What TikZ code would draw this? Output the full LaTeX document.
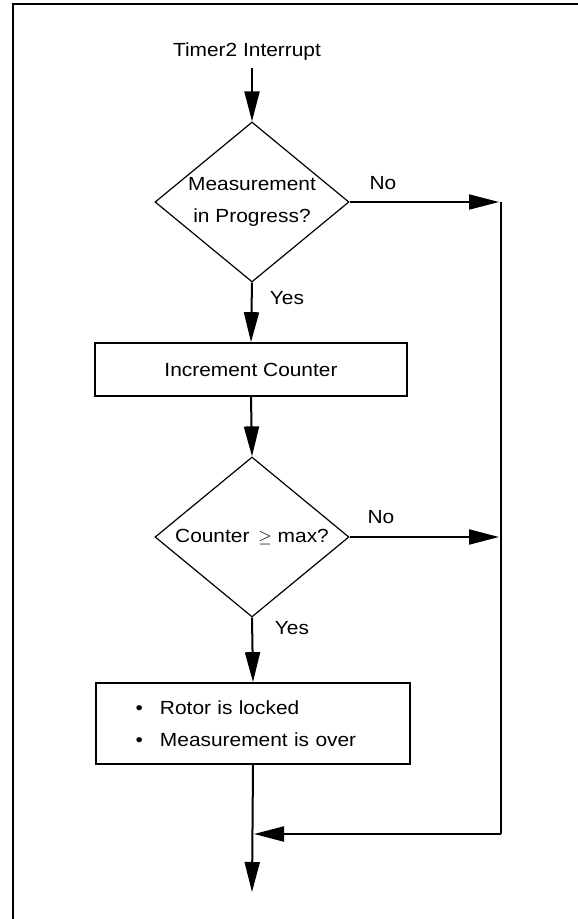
\documentclass[tikz,border=0pt]{standalone}
\usepackage{fontspec}
\setmainfont[FakeStretch=1.1]{Liberation Sans}
\usetikzlibrary{shapes.geometric,arrows.meta}
\tikzset{
  txt/.style={font={\fontsize{19}{32}\selectfont}, inner sep=0pt, align=center},
  decision/.style={diamond, draw, line width=1.2pt, inner sep=0pt, minimum width=194pt, minimum height=160pt, aspect=1.2125, font={\fontsize{19}{32}\selectfont}, align=center},
  process/.style={rectangle, draw, line width=1.7pt, inner sep=0pt, font={\fontsize{19}{32}\selectfont}},
  flow/.style={line width=2pt, -{Triangle[length=30pt,width=15pt]}},
  plain/.style={line width=2pt},
  lbl/.style={font={\fontsize{19}{32}\selectfont}, inner sep=0pt}
}
\begin{document}
\begin{tikzpicture}[x=1pt,y=-1pt]
\useasboundingbox (0,0) rectangle (578,919);
% frame
\draw[line width=2pt] (13,919) -- (13,4) -- (578,4);
% nodes
\node[txt] (start) at (247,52) {Timer2 Interrupt};
\coordinate (s) at (252,68);
\node[decision] (d1) at (252,202) {Measurement\\in Progress?};
\node[process, minimum width=312pt, minimum height=53pt] (b1) at (251,369.5) {Increment Counter};
\node[decision] (d2) at (252,537) {Counter~\,$\geq$ max?};
\node[process, minimum width=314pt, minimum height=81pt, text width=235pt, align=left, inner xsep=39.5pt] (b2) at (253,723.5)
  {\makebox[24.5pt][l]{\textbullet}Rotor is locked\\\makebox[24.5pt][l]{\textbullet}Measurement is over};
\coordinate (r1) at (501,202);
\coordinate (r2) at (501,537);
\coordinate (r3) at (501,834);
\coordinate (m) at (252,834);
\coordinate (e) at (252,892);
% labels
\node[lbl] (no1) at (383,183) {No};
\node[lbl] (yes1) at (287,298) {Yes};
\node[lbl] (no2) at (381,517) {No};
\node[lbl] (yes2) at (292,628) {Yes};
% connectors
\draw[flow] (s) -- (d1.north);
\draw[flow] (d1.south) -- (b1.north);
\draw[flow] (b1.south) -- (d2.north);
\draw[flow] (d2.south) -- (b2.north);
\draw[flow] (d1.east) -- ([xshift=-2pt]r1);
\draw[flow] (d2.east) -- ([xshift=-2pt]r2);
\draw[plain] (r1) -- (r3);
\draw[flow] (r3) -- ([xshift=2pt]m);
\draw[flow] (b2.south) -- (e);
\end{tikzpicture}
\end{document}
